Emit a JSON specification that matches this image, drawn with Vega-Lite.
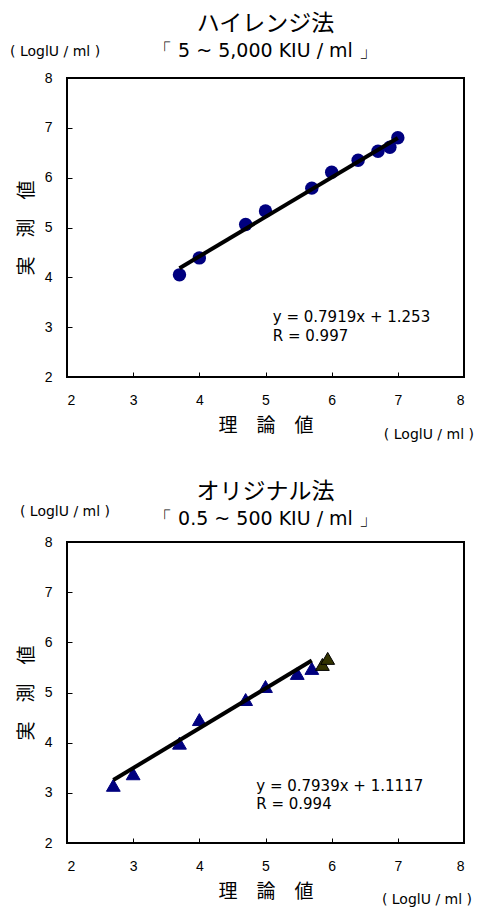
{
  "$schema": "https://vega.github.io/schema/vega-lite/v6.json",
  "padding": {"left": 9, "top": 12, "right": 3, "bottom": 0},
  "background": "white",
  "config": {
    "font": "Liberation Sans",
    "view": {"stroke": "black", "strokeWidth": 2},
    "axis": {
      "grid": false,
      "domain": false,
      "tickSize": -5,
      "tickColor": "black",
      "tickWidth": 1,
      "format": "d",
      "labelFont": "Liberation Sans",
      "labelFontSize": 14,
      "labelColor": "black",
      "titleFont": "Noto Sans CJK JP",
      "titleFontSize": 19,
      "titleFontWeight": "normal",
      "titleColor": "black"
    },
    "title": {
      "font": "Noto Sans CJK JP",
      "fontSize": 23,
      "fontWeight": "normal",
      "color": "black",
      "subtitleFont": "DejaVu Sans",
      "subtitleFontSize": 19,
      "subtitleColor": "black",
      "anchor": "middle"
    }
  },
  "datasets": {
    "high": [
      {"theory": 3.7, "measured": 4.05},
      {"theory": 4.0, "measured": 4.39},
      {"theory": 4.7, "measured": 5.06},
      {"theory": 5.0, "measured": 5.33},
      {"theory": 5.7, "measured": 5.79},
      {"theory": 6.0, "measured": 6.11},
      {"theory": 6.4, "measured": 6.35},
      {"theory": 6.7, "measured": 6.53},
      {"theory": 6.88, "measured": 6.61},
      {"theory": 7.0, "measured": 6.8}
    ],
    "highFit": [
      {"theory": 3.7, "measured": 4.183},
      {"theory": 7.0, "measured": 6.796}
    ],
    "orig": [
      {"theory": 2.7, "measured": 3.15, "group": "in"},
      {"theory": 3.0, "measured": 3.38, "group": "in"},
      {"theory": 3.7, "measured": 3.99, "group": "in"},
      {"theory": 4.0, "measured": 4.46, "group": "in"},
      {"theory": 4.7, "measured": 4.86, "group": "in"},
      {"theory": 5.0, "measured": 5.12, "group": "in"},
      {"theory": 5.48, "measured": 5.38, "group": "in"},
      {"theory": 5.7, "measured": 5.48, "group": "in"},
      {"theory": 5.86, "measured": 5.56, "group": "out"},
      {"theory": 5.94, "measured": 5.68, "group": "out"}
    ],
    "origFit": [
      {"theory": 2.7, "measured": 3.255},
      {"theory": 5.7, "measured": 5.637}
    ]
  },
  "spacing": 36,
  "vconcat": [
    {
      "width": 397,
      "height": 299,
      "title": {"text": "ハイレンジ法", "subtitle": "「 5 ~ 5,000 KIU / ml 」", "offset": -16, "subtitlePadding": 6},
      "layer": [
        {
          "data": {"name": "high"},
          "mark": {"type": "circle", "size": 180, "opacity": 1, "color": "#00007f"},
          "encoding": {
            "x": {"field": "theory", "type": "quantitative", "scale": {"domain": [2, 8], "nice": false, "zero": false},
                  "axis": {"values": [2, 3, 4, 5, 6, 7, 8], "title": "理　論　値", "labelPadding": 21, "titlePadding": 9}},
            "y": {"field": "measured", "type": "quantitative", "scale": {"domain": [2, 8], "nice": false, "zero": false},
                  "axis": {"values": [2, 3, 4, 5, 6, 7, 8], "title": "実　測　値", "labelPadding": 20, "titlePadding": 8}}
          }
        },
        {
          "data": {"name": "highFit"},
          "mark": {"type": "line", "color": "black", "strokeWidth": 4},
          "encoding": {
            "x": {"field": "theory", "type": "quantitative"},
            "y": {"field": "measured", "type": "quantitative"}
          }
        },
        {
          "data": {"values": [{}]},
          "mark": {"type": "text", "align": "left", "baseline": "middle", "font": "DejaVu Sans", "fontSize": 15, "color": "black"},
          "encoding": {
            "x": {"datum": 5.11, "type": "quantitative"},
            "y": {"datum": 3.2, "type": "quantitative"},
            "text": {"value": "y = 0.7919x + 1.253"}
          }
        },
        {
          "data": {"values": [{}]},
          "mark": {"type": "text", "align": "left", "baseline": "middle", "font": "DejaVu Sans", "fontSize": 15, "color": "black"},
          "encoding": {
            "x": {"datum": 5.11, "type": "quantitative"},
            "y": {"datum": 2.82, "type": "quantitative"},
            "text": {"value": "R = 0.997"}
          }
        },
        {
          "data": {"values": [{}]},
          "mark": {"type": "text", "align": "center", "baseline": "middle", "font": "DejaVu Sans", "fontSize": 14, "color": "black"},
          "encoding": {
            "x": {"datum": 1.82, "type": "quantitative"},
            "y": {"datum": 8.52, "type": "quantitative"},
            "text": {"value": "( LoglU / ml )"}
          }
        },
        {
          "data": {"values": [{}]},
          "mark": {"type": "text", "align": "center", "baseline": "middle", "font": "DejaVu Sans", "fontSize": 14, "color": "black"},
          "encoding": {
            "x": {"datum": 7.47, "type": "quantitative"},
            "y": {"datum": 0.84, "type": "quantitative"},
            "text": {"value": "( LoglU / ml )"}
          }
        }
      ]
    },
    {
      "width": 397,
      "height": 301,
      "title": {"text": "オリジナル法", "subtitle": "「 0.5 ~ 500 KIU / ml 」", "offset": -24, "subtitlePadding": 6},
      "layer": [
        {
          "data": {"name": "orig"},
          "mark": {"type": "point", "shape": "triangle-up", "filled": true, "size": 190, "opacity": 1, "strokeWidth": 1},
          "encoding": {
            "x": {"field": "theory", "type": "quantitative", "scale": {"domain": [2, 8], "nice": false, "zero": false},
                  "axis": {"values": [2, 3, 4, 5, 6, 7, 8], "title": "理　論　値", "labelPadding": 21, "titlePadding": 9}},
            "y": {"field": "measured", "type": "quantitative", "scale": {"domain": [2, 8], "nice": false, "zero": false},
                  "axis": {"values": [2, 3, 4, 5, 6, 7, 8], "title": "実　測　値", "labelPadding": 20, "titlePadding": 8}},
            "fill": {"field": "group", "type": "nominal", "scale": {"domain": ["in", "out"], "range": ["#00007f", "#333300"]}, "legend": null},
            "stroke": {"field": "group", "type": "nominal", "scale": {"domain": ["in", "out"], "range": ["#00007f", "#000000"]}, "legend": null}
          }
        },
        {
          "data": {"name": "origFit"},
          "mark": {"type": "line", "color": "black", "strokeWidth": 4},
          "encoding": {
            "x": {"field": "theory", "type": "quantitative"},
            "y": {"field": "measured", "type": "quantitative"}
          }
        },
        {
          "data": {"values": [{}]},
          "mark": {"type": "text", "align": "left", "baseline": "middle", "font": "DejaVu Sans", "fontSize": 15, "color": "black"},
          "encoding": {
            "x": {"datum": 4.86, "type": "quantitative"},
            "y": {"datum": 3.14, "type": "quantitative"},
            "text": {"value": "y = 0.7939x + 1.1117"}
          }
        },
        {
          "data": {"values": [{}]},
          "mark": {"type": "text", "align": "left", "baseline": "middle", "font": "DejaVu Sans", "fontSize": 15, "color": "black"},
          "encoding": {
            "x": {"datum": 4.86, "type": "quantitative"},
            "y": {"datum": 2.78, "type": "quantitative"},
            "text": {"value": "R = 0.994"}
          }
        },
        {
          "data": {"values": [{}]},
          "mark": {"type": "text", "align": "center", "baseline": "middle", "font": "DejaVu Sans", "fontSize": 14, "color": "black"},
          "encoding": {
            "x": {"datum": 1.97, "type": "quantitative"},
            "y": {"datum": 8.6, "type": "quantitative"},
            "text": {"value": "( LoglU / ml )"}
          }
        },
        {
          "data": {"values": [{}]},
          "mark": {"type": "text", "align": "center", "baseline": "middle", "font": "DejaVu Sans", "fontSize": 14, "color": "black"},
          "encoding": {
            "x": {"datum": 7.44, "type": "quantitative"},
            "y": {"datum": 0.86, "type": "quantitative"},
            "text": {"value": "( LoglU / ml )"}
          }
        }
      ]
    }
  ]
}
